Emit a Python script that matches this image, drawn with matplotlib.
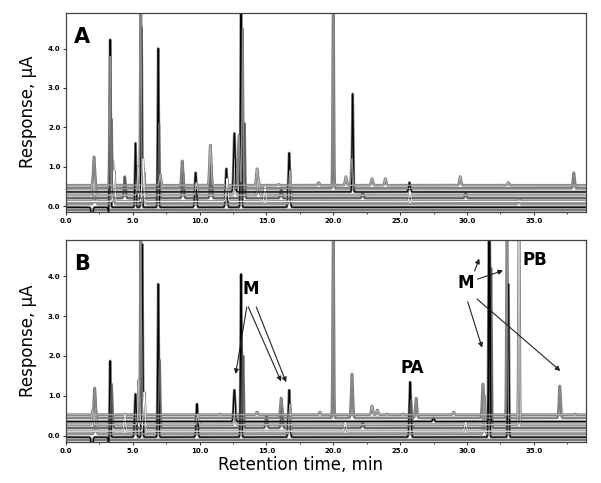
import numpy as np
import matplotlib
matplotlib.use("Agg")
import matplotlib.pyplot as plt
from matplotlib.ticker import MultipleLocator, FormatStrFormatter

# trace baselines (uA) and colours, bottom to top
trace_offsets = [-0.10, -0.03, 0.05, 0.12, 0.20, 0.28, 0.36, 0.45, 0.53]
trace_colors = ['#7a7a7a', 'black', '#a8a8a8', 'white', '#5a5a5a',
                '#c8c8c8', 'black', '#8c8c8c', '#b0b0b0']

# panel A peaks: retention time (min), apex (uA), trace index
peaks_a_time = [1.95, 2.0, 2.1, 2.15, 3.25, 3.3, 3.3, 3.4, 3.5, 3.6, 4.4,
                5.2, 5.4, 5.6, 5.65, 5.75, 5.85, 6.9, 6.95, 7.05, 8.7, 8.75,
                9.7, 9.75, 10.8, 10.85, 12.0, 12.05, 12.6, 12.65, 12.95,
                13.1, 13.2, 13.35, 14.3, 14.4, 14.9, 15.9, 16.1, 16.7, 16.75,
                18.9, 20.0, 20.95, 21.45, 21.4, 22.2, 22.9, 23.9, 25.7, 25.75,
                29.5, 29.9, 33.1, 33.9, 38.0]
peaks_a_top = [-0.35, 0.65, 1.25, 0.75, -0.35, 4.45, 3.8, 2.2, 1.15, 0.9, 0.75,
               1.6, 1.0, 5.5, 4.55, 1.2, 0.85, 4.0, 2.1, 0.8, 1.15, 0.85,
               0.85, 0.6, 1.55, 1.05, 0.95, 0.7, 1.85, 1.2, 1.8,
               5.5, 4.5, 2.1, 0.95, 0.7, 0.5, 0.55, 0.45, 1.35, 0.9,
               0.6, 5.5, 0.75, 2.85, 1.2, 0.35, 0.7, 0.7, 0.6, 0.4,
               0.75, 0.35, 0.6, 0.2, 0.85]
peaks_a_trace = [1, 5, 7, 2, 1, 1, 7, 4, 2, 3, 4,
                 1, 5, 7, 1, 3, 2, 1, 4, 8, 7, 4,
                 1, 5, 8, 4, 1, 3, 6, 5, 7,
                 1, 7, 4, 8, 5, 3, 8, 4, 1, 2,
                 8, 7, 8, 6, 7, 4, 8, 8, 6, 3,
                 8, 4, 8, 2, 7]

# panel B peaks
peaks_b_time = [1.95, 2.0, 2.15, 2.2, 3.25, 3.3, 3.4, 4.4, 5.2, 5.45,
                5.6, 5.7, 5.85, 6.9, 7.0, 9.8, 9.85, 11.5, 12.6, 12.65,
                13.1, 13.25, 14.3, 15.0, 16.1, 16.15, 16.7, 16.75,
                19.0, 20.0, 20.9, 21.4, 22.2, 22.9, 23.3, 24.0, 25.2,
                25.75, 25.8, 26.2, 27.5, 29.0, 29.9, 31.2, 31.3, 31.65,
                31.7, 31.8, 33.0, 33.1, 33.9, 36.95, 38.1]
peaks_b_top = [-0.35, 0.65, 1.2, 0.7, -0.35, 2.1, 1.3, 0.55, 1.05, 1.4,
               5.5, 4.8, 1.1, 3.8, 1.9, 0.8, 0.55, 0.55, 1.15, 0.8,
               4.05, 2.0, 0.6, 0.5, 0.95, 0.7, 1.15, 0.8,
               0.6, 5.5, 0.35, 1.55, 0.35, 0.75, 0.65, 0.55, 0.55,
               1.35, 0.9, 0.95, 0.45, 0.6, 0.35, 1.3, 1.0, 5.5,
               5.5, 4.2, 5.5, 3.8, 5.5, 1.25, 0.55]
peaks_b_trace = [1, 5, 7, 2, 1, 1, 4, 3, 1, 5,
                 7, 1, 3, 1, 4, 1, 5, 8, 6, 5,
                 1, 4, 8, 4, 7, 4, 1, 2,
                 8, 7, 3, 7, 4, 8, 8, 8, 8,
                 1, 4, 7, 6, 8, 3, 7, 2, 1,
                 6, 4, 7, 1, 5, 7, 8]

x = np.linspace(0, 39, 12000)


def build_traces(times, tops, idx):
    ys = [np.full_like(x, off) for off in trace_offsets]
    for t, top, k in zip(times, tops, idx):
        amp = top - trace_offsets[k]
        sig = 0.04 if abs(amp) > 1.5 else 0.06
        ys[k] = ys[k] + amp * np.exp(-0.5 * ((x - t) / sig) ** 2)
    return ys


def draw_panel(ax, times, tops, idx, letter):
    ys = build_traces(times, tops, idx)
    for y in ys:
        ax.plot(x, y, color='#7a7a7a', lw=1.9, solid_capstyle='butt')
    for y, c in zip(ys, trace_colors):
        ax.plot(x, y, color=c, lw=0.8)
    ax.set_xlim(0, 38.9)
    ax.set_ylim(-0.15, 4.9)
    ax.xaxis.set_major_locator(MultipleLocator(5))
    ax.xaxis.set_minor_locator(MultipleLocator(2.5))
    ax.yaxis.set_major_locator(MultipleLocator(1))
    ax.xaxis.set_major_formatter(FormatStrFormatter('%.1f'))
    ax.yaxis.set_major_formatter(FormatStrFormatter('%.1f'))
    ax.tick_params(labelsize=5, length=2, width=0.6, pad=2)
    ax.tick_params(which='minor', length=1.5, width=0.5)
    for lab in ax.get_xticklabels() + ax.get_yticklabels():
        lab.set_fontweight('bold')
    for s in ax.spines.values():
        s.set_color('#444444')
        s.set_linewidth(0.9)
    ax.text(0.016, 0.93, letter, transform=ax.transAxes, fontsize=15,
            fontweight='bold', va='top', ha='left')


fig = plt.figure(figsize=(6.01, 4.83), dpi=100)
ax_a = fig.add_axes([0.1098, 0.561, 0.865, 0.412])
ax_b = fig.add_axes([0.1098, 0.085, 0.865, 0.418])

draw_panel(ax_a, peaks_a_time, peaks_a_top, peaks_a_trace, 'A')
draw_panel(ax_b, peaks_b_time, peaks_b_top, peaks_b_trace, 'B')

fig.text(0.047, 0.768, 'Response, \u03bcA', rotation=90, fontsize=12,
         ha='center', va='center')
fig.text(0.047, 0.294, 'Response, \u03bcA', rotation=90, fontsize=12,
         ha='center', va='center')
fig.text(0.5, 0.037, 'Retention time, min', fontsize=12, ha='center',
         va='center')

# annotations in panel B
lab_kw = dict(fontsize=12, fontweight='bold', ha='center', va='center')
ax_b.text(13.8, 3.67, 'M', **lab_kw)
ax_b.text(29.9, 3.83, 'M', **lab_kw)
ax_b.text(25.9, 1.71, 'PA', **lab_kw)
ax_b.text(35.1, 4.39, 'PB', **lab_kw)

arr_kw = dict(arrowstyle='-|>', color='#222222', lw=0.8, mutation_scale=7)
arrows = [((13.56, 3.29), (12.66, 1.48)),
          ((13.56, 3.29), (16.18, 1.30)),
          ((14.16, 3.29), (16.55, 1.28)),
          ((30.5, 4.06), (31.0, 4.5)),
          ((30.6, 3.9), (32.9, 4.16)),
          ((30.0, 3.42), (31.2, 2.14)),
          ((30.6, 3.47), (37.15, 1.58))]
for start, end in arrows:
    ax_b.annotate('', xy=end, xytext=start, arrowprops=arr_kw)

fig.savefig('out.png', dpi=100)
